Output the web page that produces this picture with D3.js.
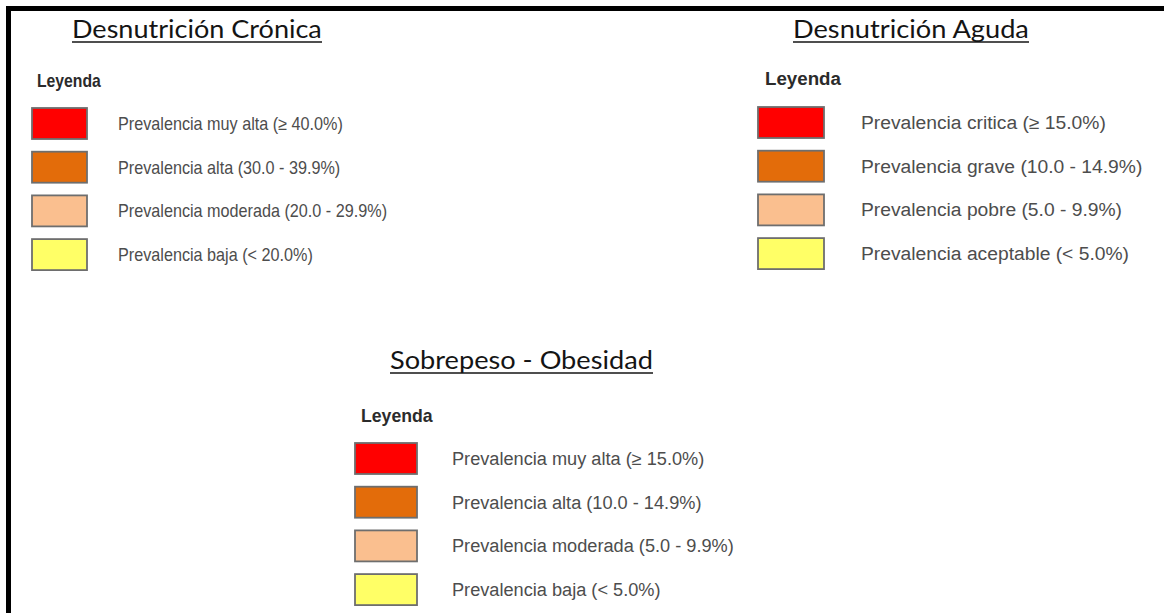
<!DOCTYPE html>
<html>
<head>
<meta charset="utf-8">
<script src="https://cdn.jsdelivr.net/npm/d3@7"></script>
<style>
  body { margin: 0; background: #fff; }
  .legend-title { font-family: "Liberation Sans", Arial, sans-serif; font-weight: bold; fill: #2b2b2b; }
  .legend-value { font-family: "Liberation Sans", Arial, sans-serif; fill: #4d4d4d; }
  .panel-title { font-family: Lato, "Open Sans", sans-serif; fill: #141414; }
</style>
</head>
<body>
<div id="wrapper"></div>
<script>
// 1. Data

const panelTitles = ["Desnutrición Crónica", "Desnutrición Aguda", "Sobrepeso - Obesidad"]

const cronicaLabels = [
  "Prevalencia muy alta (≥ 40.0%)",
  "Prevalencia alta (30.0 - 39.9%)",
  "Prevalencia moderada (20.0 - 29.9%)",
  "Prevalencia baja (< 20.0%)",
]
const agudaLabels = [
  "Prevalencia critica (≥ 15.0%)",
  "Prevalencia grave (10.0 - 14.9%)",
  "Prevalencia pobre (5.0 - 9.9%)",
  "Prevalencia aceptable (< 5.0%)",
]
const sobrepesoLabels = [
  "Prevalencia muy alta (≥ 15.0%)",
  "Prevalencia alta (10.0 - 14.9%)",
  "Prevalencia moderada (5.0 - 9.9%)",
  "Prevalencia baja (< 5.0%)",
]
const levelColors = ["#ff0000", "#e36c0a", "#fabf8f", "#ffff66"]

// 2. Dimensions

const dimensions = { width: 1164, height: 613 }

// layout of each legend block (the source image was pasted at different widths)
const panels = [
  { title: panelTitles[0], labels: cronicaLabels,
    titleX: 72, titleY: 38, titleW: 250,
    keyX: 37, keyY: 87, boxX: 32, boxW: 55, textX: 118, rowTop: 108, stretch: 0.9 },
  { title: panelTitles[1], labels: agudaLabels,
    titleX: 793, titleY: 38, titleW: 236,
    keyX: 765, keyY: 85, boxX: 758, boxW: 66, textX: 861, rowTop: 107, stretch: 1.07 },
  { title: panelTitles[2], labels: sobrepesoLabels,
    titleX: 390, titleY: 369, titleW: 263,
    keyX: 361, keyY: 422, boxX: 355, boxW: 62, textX: 452, rowTop: 443, stretch: 1.01 },
]
const rowStep = 43.7
const boxH = 31

// 3. Draw canvas

const svg = d3.select("#wrapper")
  .append("svg")
    .attr("width", dimensions.width)
    .attr("height", dimensions.height)

svg.append("rect")
    .attr("width", dimensions.width)
    .attr("height", dimensions.height)
    .attr("fill", "#fff")

// frame (top and left edges only visible)
svg.append("path")
    .attr("d", `M8.5,${dimensions.height} V8.5 H${dimensions.width}`)
    .attr("fill", "none")
    .attr("stroke", "#000")
    .attr("stroke-width", 5)

// 4. Scales

const colorScale = d3.scaleOrdinal()
    .domain(d3.range(levelColors.length))
    .range(levelColors)

// 5. Draw legends

panels.forEach(p => {
  const g = svg.append("g")

  const yScale = d3.scaleBand()
      .domain(d3.range(p.labels.length))
      .range([p.rowTop, p.rowTop + (p.labels.length - 1) * rowStep + boxH])
      .paddingInner(1 - boxH / rowStep)
      .paddingOuter(0)

  const title = g.append("text")
      .attr("class", "panel-title")
      .attr("x", p.titleX)
      .attr("y", p.titleY)
      .style("font-size", "25px")
      .text(p.title)
  // fit to the width in the picture
  const tw = title.node().getComputedTextLength()
  title.attr("transform", `translate(${p.titleX},0) scale(${p.titleW / tw},1) translate(${-p.titleX},0)`)

  g.append("line")
      .attr("x1", p.titleX)
      .attr("x2", p.titleX + p.titleW)
      .attr("y1", p.titleY + 4)
      .attr("y2", p.titleY + 4)
      .attr("stroke", "#141414")
      .attr("stroke-width", 1.6)

  g.append("text")
      .attr("class", "legend-title")
      .attr("transform", `translate(${p.keyX},${p.keyY}) scale(${p.stretch},1)`)
      .style("font-size", "17.5px")
      .text("Leyenda")

  g.selectAll(".swatch")
    .data(p.labels)
    .enter().append("rect")
      .attr("class", "swatch")
      .attr("x", p.boxX)
      .attr("y", (d, i) => yScale(i))
      .attr("width", p.boxW)
      .attr("height", yScale.bandwidth())
      .attr("fill", (d, i) => colorScale(i))
      .attr("stroke", "#6e6e6e")
      .attr("stroke-width", 1.8)

  g.selectAll(".legend-value")
    .data(p.labels)
    .enter().append("text")
      .attr("class", "legend-value")
      .attr("transform", (d, i) => `translate(${p.textX},${yScale(i) + yScale.bandwidth() / 2 + 6.5}) scale(${p.stretch},1)`)
      .style("font-size", "18px")
      .text(d => d)
})
</script>
</body>
</html>
